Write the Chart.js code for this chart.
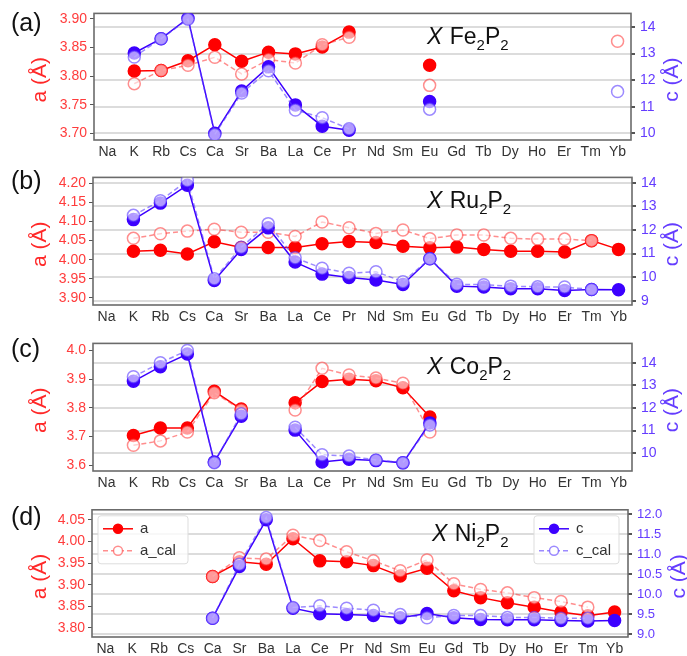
<!DOCTYPE html>
<html>
<head>
<meta charset="utf-8">
<script src="https://cdn.jsdelivr.net/npm/chart.js@4"></script>
<style>
  html, body { margin: 0; padding: 0; background: #fff; overflow: hidden; }
  #wrap { position: relative; width: 687px; height: 656px; }
  canvas { position: absolute; left: 0; }
</style>
</head>
<body>
<div id="wrap">
  <canvas id="panelA"></canvas>
  <canvas id="panelB"></canvas>
  <canvas id="panelC"></canvas>
  <canvas id="panelD"></canvas>
</div>
<script>
"use strict";

// DATA -----------------------
const elements = ["Na", "K", "Rb", "Cs", "Ca", "Sr", "Ba", "La", "Ce", "Pr",
  "Nd", "Sm", "Eu", "Gd", "Tb", "Dy", "Ho", "Er", "Tm", "Yb"];

// (a) X Fe2P2
const feA    = [null, 3.809, 3.810, 3.827, 3.855, 3.826, 3.842, 3.839, 3.851, 3.877, null, null, 3.819, null, null, null, null, null, null, null];
const feACal = [null, 3.787, 3.810, 3.819, 3.833, 3.804, 3.829, 3.823, 3.855, 3.868, null, null, 3.784, null, null, null, null, null, null, 3.861];
const feC    = [null, 13.02, 13.56, 14.33, 10.00, 11.59, 12.50, 11.07, 10.27, 10.12, null, null, 11.20, null, null, null, null, null, null, null];
const feCCal = [null, 12.87, 13.56, 14.29, 9.96, 11.52, 12.35, 10.88, 10.59, 10.17, null, null, 10.91, null, null, null, null, null, null, 11.57];

// (b) X Ru2P2
const ruA    = [null, 4.022, 4.025, 4.015, 4.047, 4.032, 4.032, 4.032, 4.042, 4.048, 4.045, 4.035, 4.031, 4.033, 4.027, 4.022, 4.022, 4.020, 4.050, 4.027];
const ruACal = [null, 4.056, 4.068, 4.075, 4.080, 4.072, 4.072, 4.061, 4.099, 4.084, 4.069, 4.078, 4.055, 4.065, 4.065, 4.056, 4.054, 4.054, 4.050, null];
const ruC    = [null, 12.44, 13.14, 13.90, 9.86, 11.17, 12.09, 10.64, 10.13, 9.99, 9.88, 9.69, 10.78, 9.62, 9.58, 9.51, 9.51, 9.44, 9.48, 9.47];
const ruCCal = [null, 12.62, 13.24, 14.10, 9.93, 11.27, 12.27, 10.82, 10.38, 10.17, 10.23, 9.81, 10.78, 9.70, 9.68, 9.62, 9.59, 9.58, 9.48, null];

// (c) X Co2P2
const coA    = [null, 3.704, 3.730, 3.730, 3.858, 3.796, null, 3.818, 3.892, 3.900, 3.895, 3.870, 3.768, null, null, null, null, null, null, null];
const coACal = [null, 3.670, 3.685, 3.716, 3.853, 3.793, null, 3.793, 3.938, 3.915, 3.904, 3.886, 3.716, null, null, null, null, null, null, null];
const coC    = [null, 13.18, 13.83, 14.39, 9.61, 11.63, null, 11.02, 9.61, 9.73, 9.67, 9.57, 11.34, null, null, null, null, null, null, null];
const coCCal = [null, 13.38, 14.00, 14.55, 9.58, 11.74, null, 11.15, 9.93, 9.87, 9.70, 9.58, 11.25, null, null, null, null, null, null, null];

// (d) X Ni2P2
const niA    = [null, null, null, null, 3.919, 3.953, 3.947, 4.006, 3.955, 3.953, 3.944, 3.920, 3.938, 3.886, 3.870, 3.858, 3.848, 3.837, 3.828, 3.837];
const niACal = [null, null, null, null, 3.919, 3.962, 3.959, 4.014, 4.002, 3.976, 3.955, 3.932, 3.957, 3.902, 3.889, 3.881, 3.870, 3.861, 3.848, null];
const niC    = [null, null, null, null, 9.40, 10.69, 11.86, 9.65, 9.51, 9.49, 9.47, 9.41, 9.52, 9.41, 9.37, 9.36, 9.36, 9.34, 9.33, 9.34];
const niCCal = [null, null, null, null, 9.40, 10.75, 11.92, 9.67, 9.71, 9.65, 9.60, 9.49, 9.41, 9.47, 9.47, 9.42, 9.42, 9.40, 9.40, null];

// tick labels
const feATicks = [3.70, 3.75, 3.80, 3.85, 3.90];
const feCTicks = [10, 11, 12, 13, 14];
const ruATicks = [3.90, 3.95, 4.00, 4.05, 4.10, 4.15, 4.20];
const ruCTicks = [9, 10, 11, 12, 13, 14];
const coATicks = [3.6, 3.7, 3.8, 3.9, 4.0];
const coCTicks = [10, 11, 12, 13, 14];
const niATicks = [3.80, 3.85, 3.90, 3.95, 4.00, 4.05];
const niCTicks = [9.0, 9.5, 10.0, 10.5, 11.0, 11.5, 12.0];

// STYLE -----------------------
const FONT = "'Liberation Sans', Arial, sans-serif";
const RED = 'rgb(255, 0, 0)';
const RED_CAL = 'rgba(255, 50, 50, 0.55)';
const BLUE = 'rgb(60, 0, 255)';
const BLUE_CAL = 'rgba(90, 60, 255, 0.6)';
const WHITE_CAL = 'rgba(255, 255, 255, 0.6)';

// FUNCTIONS -----------------------

function seriesSet(a, aCal, c, cCal) {
  return [
    { label: 'a', data: a, yAxisID: 'y', order: 3,
      borderColor: RED, backgroundColor: RED, pointBackgroundColor: RED, pointBorderColor: RED,
      borderWidth: 1.5, pointRadius: 6, pointBorderWidth: 1.5 },
    { label: 'a_cal', data: aCal, yAxisID: 'y', order: 2,
      borderColor: RED_CAL, backgroundColor: WHITE_CAL, pointBackgroundColor: WHITE_CAL, pointBorderColor: RED_CAL,
      borderWidth: 1.5, borderDash: [5, 3], pointRadius: 6, pointBorderWidth: 1.5 },
    { label: 'c', data: c, yAxisID: 'y2', order: 1,
      borderColor: BLUE, backgroundColor: BLUE, pointBackgroundColor: BLUE, pointBorderColor: BLUE,
      borderWidth: 1.5, pointRadius: 6, pointBorderWidth: 1.5 },
    { label: 'c_cal', data: cCal, yAxisID: 'y2', order: 0,
      borderColor: BLUE_CAL, backgroundColor: WHITE_CAL, pointBackgroundColor: WHITE_CAL, pointBorderColor: BLUE_CAL,
      borderWidth: 1.5, borderDash: [5, 3], pointRadius: 6, pointBorderWidth: 1.5 }
  ];
}

// frame, labels, formula, axis titles and (d) legends
const decorPlugin = {
  id: 'decor',
  beforeDatasetsDraw(chart, args, opts) {
    const { ctx, chartArea: ca } = chart;
    ctx.save();
    ctx.strokeStyle = '#6b6b6b';
    ctx.lineWidth = 1.6;
    ctx.strokeRect(ca.left, ca.top, ca.right - ca.left, ca.bottom - ca.top);
    ctx.restore();
  },
  afterDraw(chart, args, opts) {
    const { ctx, chartArea: ca } = chart;
    const midY = (ca.top + ca.bottom) / 2 + 3;
    ctx.save();

    // panel letter
    ctx.fillStyle = '#111';
    ctx.font = `25px ${FONT}`;
    ctx.textBaseline = 'middle';
    ctx.textAlign = 'left';
    ctx.fillText(opts.letter, 11, opts.letterY);

    // formula X M2P2
    let x = opts.formulaX;
    const base = ca.top + 31;
    ctx.textBaseline = 'alphabetic';
    ctx.font = `italic 23px ${FONT}`;
    ctx.fillText('X', x, base);
    x += ctx.measureText('X ').width + 1;
    const parts = [[opts.metal, false], ['2', true], ['P', false], ['2', true]];
    parts.forEach(([txt, sub]) => {
      ctx.font = sub ? `15px ${FONT}` : `23px ${FONT}`;
      ctx.fillText(txt, x, sub ? base + 6 : base);
      x += ctx.measureText(txt).width;
    });

    // axis titles
    ctx.font = `21px ${FONT}`;
    ctx.textAlign = 'center';
    ctx.textBaseline = 'middle';
    ctx.fillStyle = 'rgb(255, 40, 40)';
    ctx.translate(40, midY);
    ctx.rotate(-Math.PI / 2);
    ctx.fillText('a (Å)', 0, 0);
    ctx.setTransform(1, 0, 0, 1, 0, 0);
    ctx.fillStyle = 'rgb(100, 60, 255)';
    ctx.translate(opts.titleRX, midY);
    ctx.rotate(-Math.PI / 2);
    ctx.fillText('c (Å)', 0, 0);
    ctx.setTransform(1, 0, 0, 1, 0, 0);

    if (opts.legend) {
      const ds = chart.data.datasets;
      drawLegend(ctx, ca.left + 6, ca.top + 6, 90, [ds[0], ds[1]]);
      drawLegend(ctx, ca.right - 94, ca.top + 6, 85, [ds[2], ds[3]]);
    }
    ctx.restore();
  }
};

function drawLegend(ctx, x, y, w, items) {
  const h = 48;
  ctx.save();
  ctx.fillStyle = 'rgba(255, 255, 255, 0.8)';
  ctx.strokeStyle = '#dddddd';
  ctx.lineWidth = 1;
  ctx.beginPath();
  ctx.roundRect(x, y, w, h, 3);
  ctx.fill();
  ctx.stroke();
  items.forEach((d, i) => {
    const cy = y + 13 + i * 22;
    ctx.strokeStyle = d.borderColor;
    ctx.lineWidth = 1.5;
    ctx.setLineDash(d.borderDash || []);
    ctx.beginPath();
    ctx.moveTo(x + 5, cy);
    ctx.lineTo(x + 35, cy);
    ctx.stroke();
    ctx.setLineDash([]);
    ctx.beginPath();
    ctx.arc(x + 20, cy, 4.5, 0, Math.PI * 2);
    ctx.fillStyle = d.borderDash ? '#fff' : d.pointBackgroundColor;
    ctx.fill();
    ctx.stroke();
    ctx.fillStyle = '#333';
    ctx.font = `15px ${FONT}`;
    ctx.textAlign = 'left';
    ctx.textBaseline = 'middle';
    ctx.fillText(d.label, x + 42, cy);
  });
  ctx.restore();
}

function buildPanel(id, p) {
  const canvas = document.getElementById(id);
  canvas.style.top = p.top + 'px';
  canvas.width = 687;
  canvas.height = p.height;
  canvas.style.width = '687px';
  canvas.style.height = p.height + 'px';

  return new Chart(canvas.getContext('2d'), {
    type: 'line',
    data: { labels: elements, datasets: seriesSet(p.a, p.aCal, p.c, p.cCal) },
    plugins: [decorPlugin],
    options: {
      responsive: false,
      animation: false,
      spanGaps: false,
      layout: { padding: { top: 10, left: 0, right: 0, bottom: 0 } },
      plugins: {
        legend: { display: false },
        tooltip: { enabled: false },
        decor: { letter: p.letter, letterY: p.letterY, metal: p.metal, formulaX: p.formulaX,
                 legend: p.legend, titleRX: p.titleRX }
      },
      scales: {
        x: {
          type: 'category',
          offset: true,
          grid: { display: false, drawTicks: false },
          border: { display: false },
          ticks: { color: '#333', font: { family: FONT, size: 14 }, padding: 4, maxRotation: 0, autoSkip: false },
          afterFit(scale) { scale.height = 25; }
        },
        y: {
          position: 'left',
          min: p.aMin, max: p.aMax,
          grid: { drawOnChartArea: false, tickLength: 4, tickColor: '#555' },
          border: { display: false },
          ticks: {
            color: 'rgb(255, 60, 60)', font: { family: FONT, size: 14 }, padding: 3,
            callback: v => v.toFixed(p.aDigits)
          },
          afterBuildTicks(scale) { scale.ticks = p.aTicks.map(v => ({ value: v })); },
          afterFit(scale) { scale.width = p.left; }
        },
        y2: {
          position: 'right',
          min: p.cMin, max: p.cMax,
          grid: { drawOnChartArea: true, color: '#dcdcdc', lineWidth: 2, tickLength: 4, tickColor: '#555' },
          border: { display: false },
          ticks: {
            color: 'rgb(100, 60, 255)', font: { family: FONT, size: p.cFont }, padding: 5,
            callback: v => v.toFixed(p.cDigits)
          },
          afterBuildTicks(scale) { scale.ticks = p.cTicks.map(v => ({ value: v })); },
          afterFit(scale) { scale.width = p.right; }
        }
      }
    }
  });
}

// CHARTS -----------------------
buildPanel('panelA', {
  top: 0, height: 165, left: 94, right: 56, letter: '(a)', letterY: 24, metal: 'Fe', formulaX: 427,
  a: feA, aCal: feACal, c: feC, cCal: feCCal, titleRX: 672, cFont: 14,
  aMin: 3.6886, aMax: 3.9097, aTicks: feATicks, aDigits: 2,
  cMin: 9.75, cMax: 14.51, cTicks: feCTicks, cDigits: 0
});
buildPanel('panelB', {
  top: 164, height: 166, left: 93, right: 55, letter: '(b)', letterY: 18, metal: 'Ru', formulaX: 427,
  a: ruA, aCal: ruACal, c: ruC, cCal: ruCCal, titleRX: 672, cFont: 14,
  aMin: 3.881, aMax: 4.216, aTicks: ruATicks, aDigits: 2,
  cMin: 8.82, cMax: 14.23, cTicks: ruCTicks, cDigits: 0
});
buildPanel('panelC', {
  top: 330, height: 166, left: 93, right: 55, letter: '(c)', letterY: 20, metal: 'Co', formulaX: 427,
  a: coA, aCal: coACal, c: coC, cCal: coCCal, titleRX: 672, cFont: 14,
  aMin: 3.58, aMax: 4.025, aTicks: coATicks, aDigits: 1,
  cMin: 9.21, cMax: 14.86, cTicks: coCTicks, cDigits: 0
});
buildPanel('panelD', {
  top: 497, height: 165, left: 92, right: 59, letter: '(d)', letterY: 21, metal: 'Ni', formulaX: 432,
  a: niA, aCal: niACal, c: niC, cCal: niCCal, titleRX: 679, cFont: 13,
  aMin: 3.779, aMax: 4.073, aTicks: niATicks, aDigits: 2,
  cMin: 8.93, cMax: 12.11, cTicks: niCTicks, cDigits: 1, legend: true
});
</script>
</body>
</html>
